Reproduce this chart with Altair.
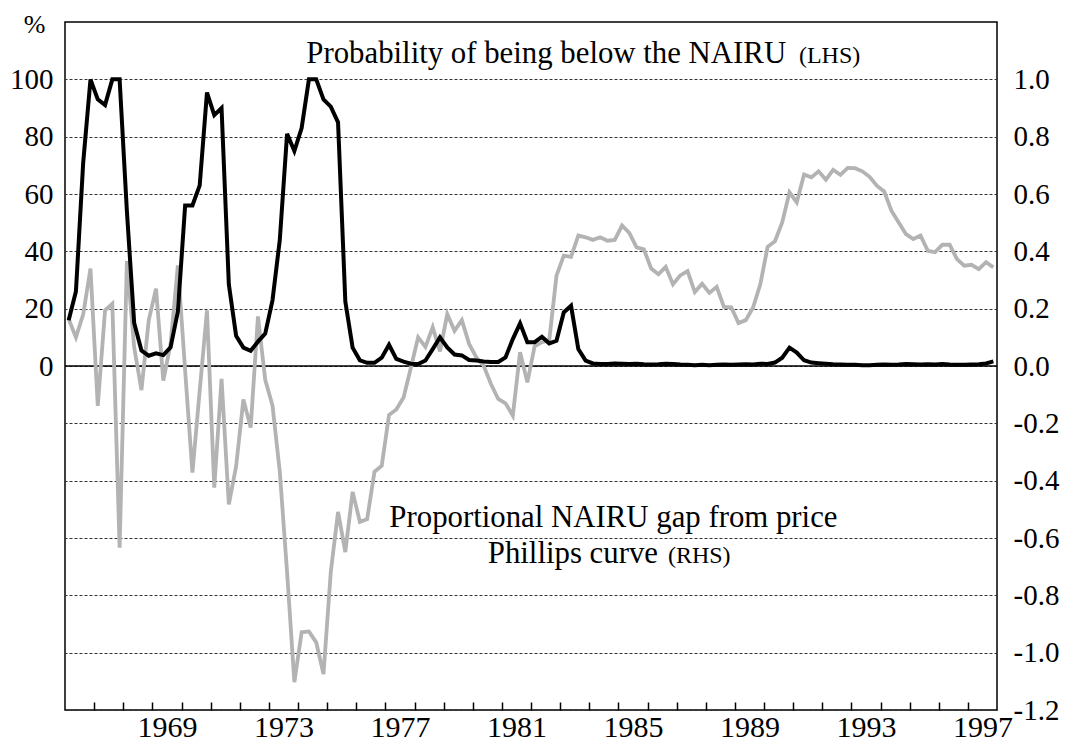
import altair as alt
import pandas as pd

# ---------------- data (quarterly, 1966Q1 - 1997Q4) ----------------
start_year = 1966
end_year = 1998

# Probability of being below the NAIRU (%, LHS)
prob_below = [
    16, 26, 71, 100, 93, 91, 100, 100,
    54, 15, 5.4, 3.6, 4.4, 3.8, 6.5, 19,
    56, 56, 63, 95.4, 87.5, 90, 28.5, 10.5,
    6.4, 5.3, 8.5, 11.3, 23, 44, 81, 75,
    83, 100, 100, 93, 90.5, 85, 22.5, 6.4,
    2, 1.1, 1.1, 2.9, 7.4, 2.5, 1.5, 0.8,
    0.7, 1.9, 5.9, 10, 6.5, 4, 3.7, 2.1,
    1.9, 1.6, 1.4, 1.4, 3, 9.4, 14.9, 8.3,
    8.3, 10.2, 7.9, 8.8, 18.7, 21, 5.9, 1.9,
    0.9, 0.7, 0.7, 0.9, 0.8, 0.7, 0.8, 0.6,
    0.5, 0.6, 0.8, 0.7, 0.5, 0.4, 0.3, 0.4,
    0.3, 0.4, 0.5, 0.4, 0.5, 0.6, 0.5, 0.8,
    0.7, 1.2, 2.9, 6.4, 4.7, 2.0, 1.2, 1.0,
    0.8, 0.6, 0.5, 0.4, 0.4, 0.3, 0.3, 0.4,
    0.5, 0.4, 0.5, 0.7, 0.6, 0.5, 0.6, 0.5,
    0.7, 0.5, 0.4, 0.4, 0.5, 0.6, 0.9, 1.6,
]

# Proportional NAIRU gap from price Phillips curve (RHS)
nairu_gap = [
    0.164, 0.10, 0.18, 0.34, -0.139, 0.194, 0.217, -0.634,
    0.366, 0.065, -0.084, 0.159, 0.27, -0.051, 0.077, 0.351,
    -0.016, -0.372, -0.086, 0.194, -0.424, -0.045, -0.483, -0.35,
    -0.117, -0.215, 0.173, -0.048, -0.138, -0.369, -0.719, -1.103,
    -0.929, -0.926, -0.964, -1.075, -0.719, -0.509, -0.649, -0.439,
    -0.544, -0.534, -0.369, -0.348, -0.171, -0.152, -0.11, -0.006,
    0.1, 0.067, 0.135, 0.051, 0.181, 0.123, 0.16, 0.077,
    0.03, 0.001, -0.063, -0.115, -0.13, -0.173, 0.048, -0.057,
    0.069, 0.083, 0.088, 0.315, 0.385, 0.381, 0.455, 0.449,
    0.44, 0.449, 0.437, 0.44, 0.49, 0.464, 0.414, 0.407,
    0.34, 0.32, 0.346, 0.285, 0.316, 0.331, 0.258, 0.287,
    0.255, 0.276, 0.206, 0.205, 0.15, 0.16, 0.204, 0.286,
    0.416, 0.435, 0.501, 0.606, 0.571, 0.668, 0.658, 0.679,
    0.65, 0.684, 0.667, 0.691, 0.69, 0.679, 0.66, 0.629,
    0.609, 0.542, 0.501, 0.46, 0.443, 0.455, 0.402, 0.397,
    0.423, 0.423, 0.373, 0.35, 0.353, 0.338, 0.362, 0.344,
]

left_ticks = [0, 20, 40, 60, 80, 100]
right_ticks = [-1.2, -1.0, -0.8, -0.6, -0.4, -0.2, 0.0, 0.2, 0.4, 0.6, 0.8, 1.0]
year_ticks = list(range(1967, 1998))

# annotations: text, x (year), y (LHS units), align, font size
ann_text = ["Probability of being below the NAIRU", "(LHS)",
            "Proportional NAIRU gap from price", "Phillips curve", "(RHS)"]
ann_x = [1990.76, 1991.20, 1984.83, 1986.36, 1986.70]
ann_y = [105.7, 105.7, -56.2, -68.7, -68.7]
ann_align = ["right", "left", "center", "right", "left"]
ann_size = [30.8, 24, 30.8, 30.8, 24]

# ---------------- chart ----------------
FONT = "Times New Roman, Liberation Serif, DejaVu Serif, serif"
n = len(prob_below)
period = [start_year + (i + 0.5) / 4 for i in range(n)]
df = pd.DataFrame({"t": period, "prob": prob_below, "gap": nairu_gap})

x_scale = alt.Scale(domain=[start_year, end_year], nice=False, zero=False)
x_axis = alt.Axis(
    values=year_ticks,
    labelExpr="(datum.value - 1969) % 4 == 0 ? '' + datum.value : ''",
    domain=False, grid=False, ticks=True, tickSize=8, tickWidth=1.5,
    tickColor="black", offset=-8, labelOffset=14.56, labelPadding=2,
    labelFlush=False, labelOverlap=False, labelFontSize=30, title="",
)
x_enc = alt.X("t:Q", scale=x_scale, axis=x_axis)

left_scale = alt.Scale(domain=[-120, 120], nice=False, zero=False)
right_scale = alt.Scale(domain=[-1.2, 1.2], nice=False, zero=False)

grey = alt.Chart(df).mark_line(color="#b3b3b3", strokeWidth=3.8).encode(
    x=x_enc,
    y=alt.Y("gap:Q", scale=right_scale, axis=alt.Axis(
        orient="right", values=right_ticks,
        labelExpr="(datum.value < -0.001 ? '-' : '') + format(abs(datum.value), '.1f')",
        grid=True, gridDash=[3, 2], gridColor="#333333", gridWidth=1,
        ticks=False, domain=False, labelPadding=16, title="")),
)

black = alt.Chart(df).mark_line(color="black", strokeWidth=4).encode(
    x=x_enc,
    y=alt.Y("prob:Q", scale=left_scale, axis=alt.Axis(
        orient="left", values=left_ticks, ticks=False, domain=False, grid=False,
        labelPadding=12, title="%", titleAngle=0, titleX=-31, titleY=10,
        titleBaseline="alphabetic", titleAlign="center", titleFontSize=26,
        titleFontWeight="normal")),
)

zero = alt.Chart(pd.DataFrame({"z": [0]})).mark_rule(color="black", strokeWidth=1.5).encode(
    y=alt.Y("z:Q", scale=left_scale, axis=None)
)

texts = []
for txt, tx, ty, al, fs in zip(ann_text, ann_x, ann_y, ann_align, ann_size):
    d = pd.DataFrame({"t": [tx], "v": [ty], "label": [txt]})
    texts.append(
        alt.Chart(d).mark_text(font=FONT, fontSize=fs, align=al, baseline="alphabetic",
                               color="black").encode(
            x=x_enc,
            y=alt.Y("v:Q", scale=left_scale, axis=None),
            text="label:N",
        )
    )

chart = (
    alt.layer(zero, grey, black, *texts)
    .resolve_scale(y="independent")
    .properties(
        width=932, height=688,
        autosize=alt.AutoSizeParams(type="none"),
        padding={"left": 57, "top": 14, "right": 63, "bottom": 32},
    )
    .configure_view(stroke="black", strokeWidth=1.5)
    .configure_axis(labelFont=FONT, labelFontSize=29, labelColor="black",
                    titleFont=FONT, titleColor="black")
)

chart.save("out.html", embed_options={"renderer": "svg", "actions": False})
